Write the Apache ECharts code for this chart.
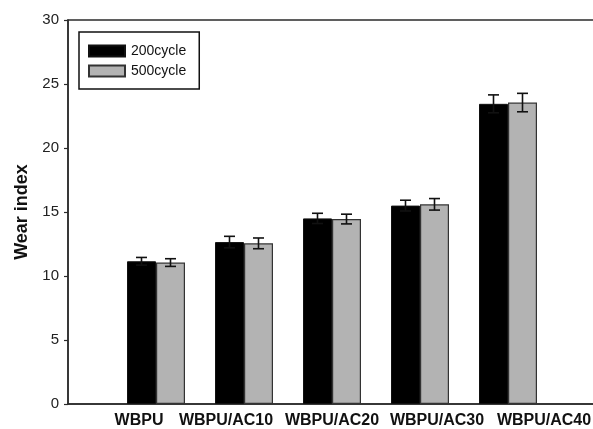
<!DOCTYPE html>
<html>
<head>
<meta charset="utf-8">
<script src="https://cdn.jsdelivr.net/npm/echarts@6/dist/echarts.min.js"></script>
<style>
  html, body { margin: 0; padding: 0; background: #fff; }
  #chart { width: 593px; height: 429px; }
</style>
</head>
<body>
<div id="chart"></div>
<script>
// Wear index of the WBPU / acrylic-copolymer films after two abrasion runs
const categories = ['WBPU', 'WBPU/AC10', 'WBPU/AC20', 'WBPU/AC30', 'WBPU/AC40'];
const seriesNames = ['200cycle', '500cycle'];
const wear200 = [11.15, 12.65, 14.5, 15.5, 23.45];
const err200 = [0.3, 0.45, 0.4, 0.42, 0.7];
const wear500 = [11.05, 12.55, 14.45, 15.6, 23.55];
const err500 = [0.3, 0.42, 0.38, 0.45, 0.72];
const yTicks = [0, 5, 10, 15, 20, 25, 30];

// ---- styling ----
const FONT = 'Arial, "Liberation Sans", sans-serif';
const AXIS_COLOR = '#2b2b2b';
const BAR_W = 29;          // px, each bar
const CAP_W = 11;          // px, error-bar cap
const colors = ['#000000', '#b3b3b3'];
// horizontal nudge of each category caption under its group (px)
const labelNudge = [-17, -18, 0, 17, 36];

// one empty slot either side of the data so the groups sit at whole steps
const axisCats = [''].concat(categories, ['']);
const pad = arr => ['-'].concat(arr, ['-']);

const rich = {};
labelNudge.forEach((d, i) => {
  rich['c' + i] = {
    fontFamily: FONT, fontWeight: 'bold', fontSize: 16, color: '#111',
    padding: d >= 0 ? [0, 0, 0, 2 * d] : [0, -2 * d, 0, 0]
  };
});

function errorSeries(name, values, errs, offsetSign) {
  return {
    type: 'custom',
    name: name + ' error',
    z: 5,
    silent: true,
    data: values.map((v, i) => [i + 1, v, errs[i]]),
    renderItem: function (params, api) {
      const x = api.value(0), v = api.value(1), e = api.value(2);
      const top = api.coord([x, v + e]);
      const bot = api.coord([x, v - e]);
      const cx = top[0] + offsetSign * BAR_W / 2;
      const st = { stroke: '#111', lineWidth: 1.6 };
      return {
        type: 'group',
        children: [
          { type: 'line', shape: { x1: cx, y1: top[1], x2: cx, y2: bot[1] }, style: st },
          { type: 'line', shape: { x1: cx - CAP_W / 2, y1: top[1], x2: cx + CAP_W / 2, y2: top[1] }, style: st },
          { type: 'line', shape: { x1: cx - CAP_W / 2, y1: bot[1], x2: cx + CAP_W / 2, y2: bot[1] }, style: st }
        ]
      };
    }
  };
}

const chart = echarts.init(document.getElementById('chart'), null, { renderer: 'canvas' });
chart.setOption({
  animation: false,
  backgroundColor: '#fff',
  grid: {
    // the frame runs on past the right edge of the canvas
    left: 68, width: 528, top: 20, bottom: 25,
    containLabel: false,
    outerBoundsMode: 'none',
    show: true, borderColor: AXIS_COLOR, borderWidth: 1.5, backgroundColor: 'transparent'
  },
  legend: {
    data: seriesNames,
    orient: 'vertical',
    left: 79, top: 32,
    padding: [12, 13, 11, 9],
    itemGap: 6,
    itemWidth: 36, itemHeight: 11,
    icon: 'rect',
    borderColor: '#111', borderWidth: 1.5,
    textStyle: { fontFamily: FONT, fontSize: 14, color: '#111', padding: [0, 0, 0, 1] }
  },
  xAxis: {
    type: 'category',
    data: axisCats,
    boundaryGap: false,
    axisLine: { lineStyle: { color: AXIS_COLOR, width: 1.5 } },
    axisTick: { show: false },
    splitLine: { show: false },
    axisLabel: {
      margin: 9,
      interval: 0,
      hideOverlap: false,
      formatter: function (val, idx) {
        if (!val) return '';
        return '{c' + (idx - 1) + '|' + val + '}';
      },
      rich: rich
    }
  },
  yAxis: {
    type: 'value',
    min: yTicks[0], max: yTicks[yTicks.length - 1], interval: yTicks[1] - yTicks[0],
    name: 'Wear index',
    nameLocation: 'middle',
    nameGap: 37,
    nameTextStyle: { fontFamily: FONT, fontWeight: 'bold', fontSize: 18, color: '#111' },
    axisLine: { show: true, lineStyle: { color: AXIS_COLOR, width: 1.5 } },
    axisTick: { show: true, inside: false, length: 4, lineStyle: { color: AXIS_COLOR, width: 1.2 } },
    splitLine: { show: false },
    axisLabel: { margin: 9, fontFamily: FONT, fontSize: 15, color: '#222' }
  },
  series: [
    {
      type: 'bar', name: seriesNames[0], data: pad(wear200),
      barWidth: BAR_W, barGap: '0%',
      itemStyle: { color: colors[0], borderColor: '#111', borderWidth: 1 }
    },
    {
      type: 'bar', name: seriesNames[1], data: pad(wear500),
      barWidth: BAR_W, barGap: '0%',
      itemStyle: { color: colors[1], borderColor: '#333', borderWidth: 1.2 }
    },
    errorSeries(seriesNames[0], wear200, err200, -1),
    errorSeries(seriesNames[1], wear500, err500, 1)
  ]
});
</script>
</body>
</html>
